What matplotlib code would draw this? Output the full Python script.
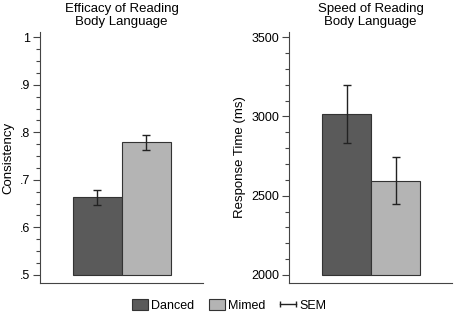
"""
Two bar panels: efficacy and speed of reading body language
"""
import matplotlib.pyplot as plt
from matplotlib.patches import Patch
from matplotlib.lines import Line2D
from matplotlib.legend_handler import HandlerLine2D
import numpy as np

plt.rcParams['font.family'] = ['Liberation Sans', 'DejaVu Sans']

conditions = ['Danced', 'Mimed']
colors = ['#5a5a5a', '#b4b4b4']

consistency = [0.663, 0.779]
consistency_sem = [0.0165, 0.016]
consistency_ticks = [0.5, 0.6, 0.7, 0.8, 0.9, 1.0]
consistency_labels = ['.5', '.6', '.7', '.8', '.9', '1']

response_time = [3015, 2593]
response_sem = [180, 148]
response_ticks = [2000, 2500, 3000, 3500]
response_labels = ['2000', '2500', '3000', '3500']

fig = plt.figure(figsize=(4.54, 3.14), dpi=100)
ax1 = fig.add_axes([0.088, 0.099, 0.359, 0.799])
ax2 = fig.add_axes([0.637, 0.099, 0.359, 0.799])

tick_fs = 9
text_fs = 9.5
x = np.arange(len(conditions))


def draw_panel(ax, values, sem, base, ylim, ticks, labels, minor_step, title, ylabel):
    ax.bar(x, np.array(values) - base, bottom=base, width=1.0, color=colors,
           edgecolor='#333333', linewidth=0.8, zorder=2)
    ax.errorbar(x, values, yerr=sem, fmt='none', ecolor='#222222',
                elinewidth=1.0, capsize=3, capthick=1.0, zorder=3)
    ax.set_xlim(-1.17, 2.15)
    ax.set_ylim(*ylim)
    ax.set_yticks(ticks)
    ax.set_yticklabels(labels, fontsize=tick_fs)
    ax.set_yticks(np.arange(ticks[0], ticks[-1] + minor_step / 2, minor_step), minor=True)
    ax.tick_params(axis='y', which='major', length=5, width=0.8, color='#444444', pad=2)
    ax.tick_params(axis='y', which='minor', length=3, width=0.8, color='#444444')
    ax.set_xticks([])
    for side in ['top', 'right']:
        ax.spines[side].set_visible(False)
    for side in ['left', 'bottom']:
        ax.spines[side].set_color('#444444')
        ax.spines[side].set_linewidth(0.8)
    ax.set_title(title, fontsize=text_fs, pad=5, linespacing=1.1)
    ax.set_ylabel(ylabel, fontsize=text_fs, labelpad=4)


draw_panel(ax1, consistency, consistency_sem, 0.5, (0.483, 1.011),
           consistency_ticks, consistency_labels, 0.025,
           'Efficacy of Reading\nBody Language', 'Consistency')
draw_panel(ax2, response_time, response_sem, 2000, (1950, 3532),
           response_ticks, response_labels, 100,
           'Speed of Reading\nBody Language', 'Response Time (ms)')

sem_handle = Line2D([0, 1], [0, 0], color='#222222', lw=1.0, marker='|',
                    markersize=4.5, markeredgewidth=1.0)
handles = [Patch(facecolor=colors[0], edgecolor='#333333', linewidth=0.8),
           Patch(facecolor=colors[1], edgecolor='#333333', linewidth=0.8),
           sem_handle]
fig.legend(handles, conditions + ['SEM'], loc='center',
           bbox_to_anchor=(0.505, 0.028), ncol=3, frameon=False,
           fontsize=tick_fs, handlelength=1.25,
           handleheight=1.05, handletextpad=0.3, columnspacing=1.15,
           borderpad=0,
           handler_map={sem_handle: HandlerLine2D(marker_pad=0, numpoints=2)})

plt.savefig('out.png', dpi=100)
